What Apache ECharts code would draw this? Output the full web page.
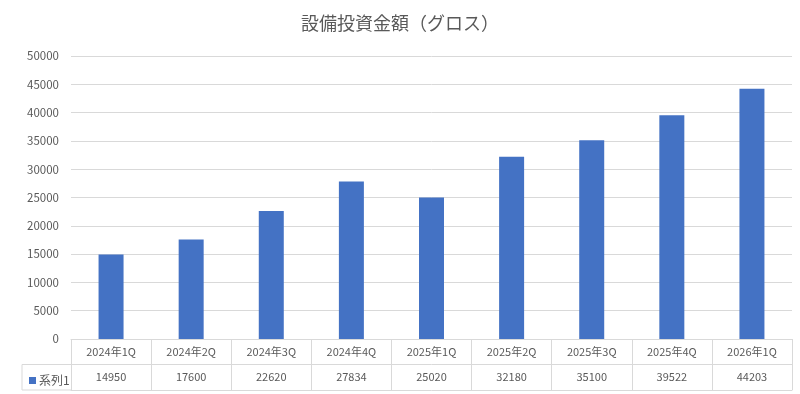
<!DOCTYPE html>
<html><head><meta charset="utf-8">
<script src="https://cdn.jsdelivr.net/npm/echarts@6/dist/echarts.min.js"></script>
<style>html,body{margin:0;padding:0;background:#fff}#c{width:800px;height:394px}</style>
</head><body><div id="c"></div>
<script>
const titleText = '設備投資金額（グロス）';
const seriesName = '系列1';
const categories = ['2024年1Q','2024年2Q','2024年3Q','2024年4Q','2025年1Q','2025年2Q','2025年3Q','2025年4Q','2026年1Q'];
const values = [14950, 17600, 22620, 27834, 25020, 32180, 35100, 39522, 44203];
const yMin = 0, yMax = 50000, yStep = 5000;

const FONT = '"Noto Sans CJK JP", "Noto Sans", sans-serif';
const TXT = '#595959', LINE = '#d9d9d9', BAR = '#4472C4';
const GL = 71, GR = 8, GT = 56, GB = 55, ROW = 25.5, LEFTCELL = 22;
const H = 394;
const axisY = H - GB;

const chart = echarts.init(document.getElementById('c'), null, {renderer: 'canvas'});
chart.setOption({
  animation: false,
  textStyle: {fontFamily: FONT},
  title: {text: titleText, left: 'center', top: 9,
    textStyle: {fontFamily: FONT, fontSize: 18, fontWeight: 'normal', color: TXT}},
  legend: {data: [seriesName], left: 24, top: axisY + ROW + 5, icon: 'rect',
    itemWidth: 7, itemHeight: 7, itemGap: 2,
    textStyle: {fontFamily: FONT, fontSize: 12, color: TXT, padding: [0,0,0,-2]}},
  grid: {left: GL, right: GR, top: GT, bottom: GB, containLabel: false},
  xAxis: [
    {type: 'category', data: categories, position: 'bottom',
      axisLine: {show: true, lineStyle: {color: LINE}},
      axisTick: {show: true, interval: 0, alignWithLabel: false, inside: false, length: ROW * 2, lineStyle: {color: LINE}},
      axisLabel: {interval: 0, margin: 7, fontSize: 11, color: TXT, fontFamily: FONT}},
    {type: 'category', data: values.map(String), position: 'bottom', offset: ROW,
      axisLine: {show: true, lineStyle: {color: LINE}},
      axisTick: {show: false},
      axisLabel: {interval: 0, margin: 7, fontSize: 11, color: TXT, fontFamily: FONT}},
    {type: 'category', data: categories, position: 'bottom', offset: ROW * 2,
      axisLine: {show: true, lineStyle: {color: LINE}},
      axisTick: {show: false}, axisLabel: {show: false}}
  ],
  yAxis: {type: 'value', min: yMin, max: yMax, interval: yStep,
    axisLine: {show: false}, axisTick: {show: false},
    axisLabel: {margin: 12, fontSize: 11.5, color: TXT, fontFamily: FONT, formatter: v => String(v)},
    splitLine: {lineStyle: {color: LINE}}},
  series: [{name: seriesName, type: 'bar', data: values, barWidth: 25, xAxisIndex: 0,
    itemStyle: {color: BAR}}],
  graphic: [
    {type: 'line', shape: {x1: LEFTCELL, y1: axisY + ROW, x2: GL, y2: axisY + ROW}, style: {stroke: LINE, lineWidth: 1}},
    {type: 'line', shape: {x1: LEFTCELL, y1: axisY + ROW * 2, x2: GL, y2: axisY + ROW * 2}, style: {stroke: LINE, lineWidth: 1}},
    {type: 'line', shape: {x1: LEFTCELL, y1: axisY + ROW, x2: LEFTCELL, y2: axisY + ROW * 2}, style: {stroke: LINE, lineWidth: 1}}
  ]
});
</script></body></html>
